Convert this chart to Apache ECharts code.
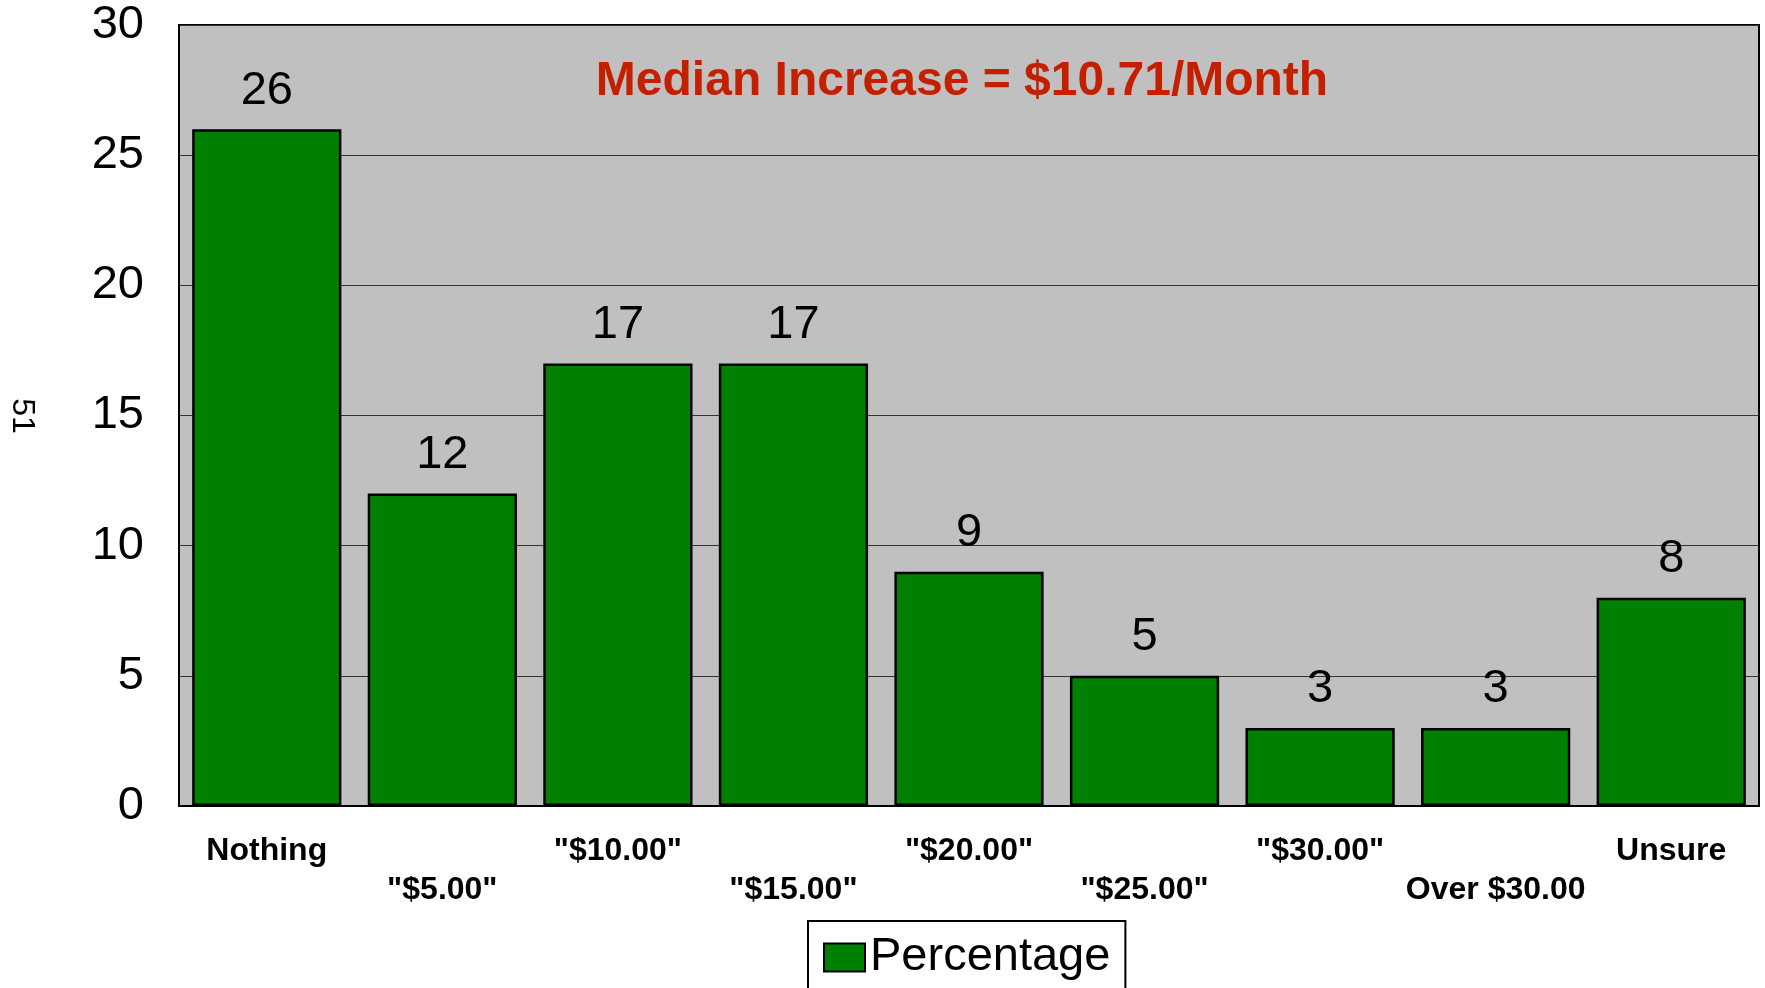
<!DOCTYPE html>
<html>
<head>
<meta charset="utf-8">
<script src="https://cdn.jsdelivr.net/npm/echarts@6/dist/echarts.min.js"></script>
<style>
  html, body { margin: 0; padding: 0; background: #fff; }
  #chart { width: 1765px; height: 988px; }
</style>
</head>
<body>
<div id="chart"></div>
<script>
// values
var categories = ['Nothing', '"$5.00"', '"$10.00"', '"$15.00"', '"$20.00"', '"$25.00"', '"$30.00"', 'Over $30.00', 'Unsure'];
var percentage = [26, 12, 17, 17, 9, 5, 3, 3, 8];
var yTicks = [0, 5, 10, 15, 20, 25, 30];
var titleText = 'Median Increase = $10.71/Month';
var pageNo = '51';

var font = '"Liberation Sans", Arial, sans-serif';
var myChart = echarts.init(document.getElementById('chart'));

myChart.setOption({
  animation: false,
  textStyle: { fontFamily: font },
  grid: {
    left: 179, right: 6, top: 25, bottom: 182,
    show: true,
    backgroundColor: '#c0c0c0',
    borderColor: '#000',
    borderWidth: 2
  },
  graphic: [
    {
      // titel in het plotvlak
      type: 'text', x: 962, y: 82,
      style: {
        text: titleText, fill: '#c42000', font: 'bold 48px ' + font,
        align: 'center', verticalAlign: 'middle'
      }
    },
    {
      type: 'text', x: 22, y: 416, rotation: -Math.PI / 2,
      style: {
        text: pageNo, fill: '#000', font: '32px ' + font,
        align: 'center', verticalAlign: 'middle'
      }
    }
  ],
  legend: {
    data: ['Percentage'],
    left: 808, top: 921,
    padding: [13, 15, 30, 15],
    borderColor: '#000',
    borderWidth: 2,
    icon: 'rect',
    itemWidth: 41,
    itemHeight: 28,
    textStyle: { fontSize: 47, color: '#000', fontFamily: font }
  },
  xAxis: {
    type: 'category',
    data: categories,
    axisLine: { lineStyle: { color: '#000', width: 2 } },
    axisTick: { show: false },
    axisLabel: {
      interval: 0,
      margin: 26,
      color: '#000',
      fontSize: 32,
      fontWeight: 'bold',
      fontFamily: font,
      lineHeight: 39,
      formatter: function (v, i) { return i % 2 ? '\n' + v : v; }
    }
  },
  yAxis: {
    type: 'value',
    min: yTicks[0],
    max: yTicks[yTicks.length - 1],
    interval: 5,
    axisLine: { show: true, lineStyle: { color: '#000', width: 2 } },
    axisTick: { show: false },
    splitLine: { lineStyle: { color: '#333', width: 1 } },
    axisLabel: { margin: 35, color: '#000', fontSize: 47, fontFamily: font }
  },
  series: [
    {
      name: 'Percentage',
      type: 'bar',
      data: percentage,
      barWidth: '85%',
      itemStyle: { color: '#008000', borderColor: '#000', borderWidth: 2.5 },
      label: {
        show: true,
        position: 'top',
        distance: 15,
        color: '#000',
        fontSize: 47,
        fontFamily: font
      }
    }
  ]
});
</script>
</body>
</html>
